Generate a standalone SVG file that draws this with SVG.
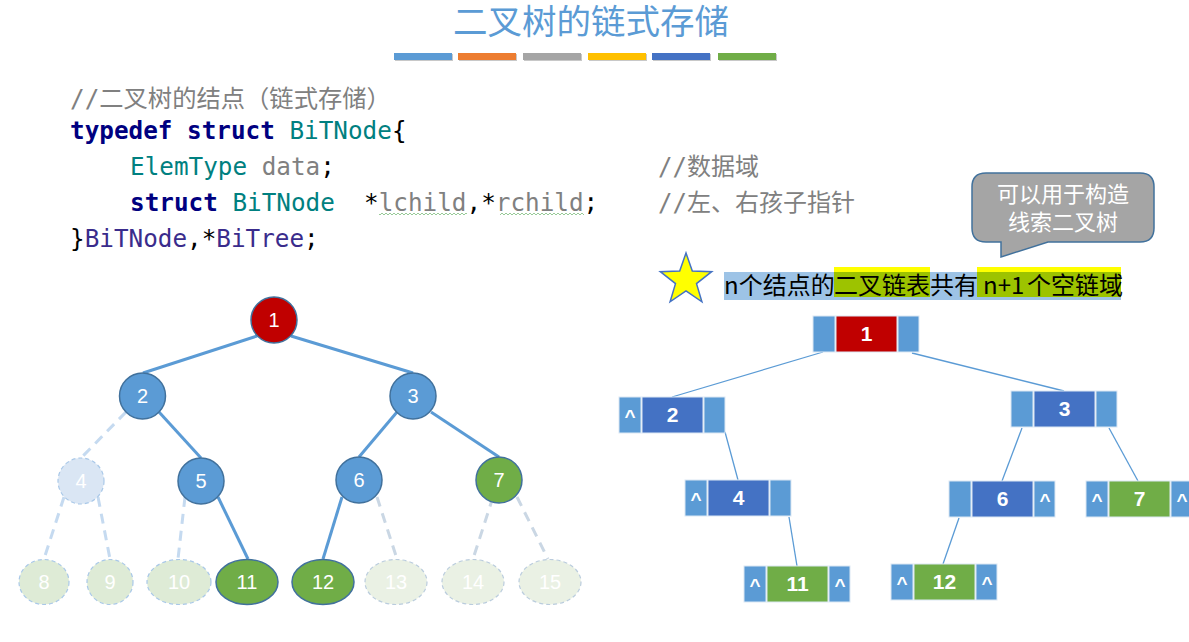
<svg xmlns="http://www.w3.org/2000/svg" width="1189" height="642" viewBox="0 0 1189 642">
<style>
.title{font-family:"Noto Sans CJK SC","Noto Sans",sans-serif;font-size:34.5px;fill:#5B9BD5;text-anchor:middle}
.code{font-family:"DejaVu Sans Mono","Noto Sans CJK SC",monospace;font-size:24.3px;white-space:pre}
.kw{fill:#000080;font-weight:bold}
.ty{fill:#008080}
.gr{fill:#808080}
.bk{fill:#000000}
.pu{fill:#3A2C8C}
.cm{font-family:"DejaVu Sans Mono","Noto Sans CJK SC",monospace;font-size:24px;fill:#808080}
.hl{font-family:"Noto Sans CJK SC",sans-serif;font-size:24px;fill:#000}
.call{font-family:"Noto Sans CJK SC",sans-serif;font-size:22px;fill:#fff;text-anchor:middle}
.e{stroke:#5B9BD5;stroke-width:3;fill:none}
.ed{stroke:#C5DAF0;stroke-width:3;fill:none;stroke-dasharray:10 7}
.ed2{stroke:#CAD7E4;stroke-width:3;fill:none;stroke-dasharray:10 7}
.re{stroke:#5B9BD5;stroke-width:1.3;fill:none}
.c{stroke:#41719C;stroke-width:1.5}
.red{fill:#C00000}
.blu{fill:#5B9BD5}
.grn{fill:#70AD47}
.f4{fill:#DAE6F4;stroke:#A9C8E8;stroke-width:1.2;stroke-dasharray:4 3}
.fg{fill:#DEEBD6;stroke:#A9C8E8;stroke-width:1.2;stroke-dasharray:4 3}
.fg2{fill:#EAF1E4;stroke:#BACCDD;stroke-width:1.2;stroke-dasharray:4 3}
.nt{font-family:"Liberation Sans",Arial,sans-serif;font-size:20px;fill:#fff;text-anchor:middle}
.pc{fill:#5B9BD5;stroke:#DCE8F4;stroke-width:1}
.dc{stroke:#DCE8F4;stroke-width:1}
.db{fill:#4472C4}
.dt{font-family:"Liberation Sans",Arial,sans-serif;font-size:21px;font-weight:bold;fill:#fff;text-anchor:middle}
.ct{font-family:"Liberation Sans",Arial,sans-serif;font-size:19px;font-weight:bold;fill:#fff;text-anchor:middle}
</style>
<defs>
<pattern id="wave" x="0" y="0" width="4" height="4" patternUnits="userSpaceOnUse">
<polyline points="0,3 2,1 4,3" fill="none" stroke="#8CC48C" stroke-width="0.9"/>
</pattern>
</defs>

<g id="title">
<text class="title" x="591" y="34">二叉树的链式存储</text>
<rect x="395" y="54" width="58" height="7" fill="#C8C8C8"/>
<rect x="459" y="54" width="58" height="7" fill="#C8C8C8"/>
<rect x="524" y="54" width="58" height="7" fill="#C8C8C8"/>
<rect x="589" y="54" width="58" height="7" fill="#C8C8C8"/>
<rect x="653" y="54" width="58" height="7" fill="#C8C8C8"/>
<rect x="719" y="54" width="58" height="7" fill="#C8C8C8"/>
<rect x="394" y="53" width="58" height="7" fill="#5B9BD5"/>
<rect x="458" y="53" width="58" height="7" fill="#ED7D31"/>
<rect x="523" y="53" width="58" height="7" fill="#A5A5A5"/>
<rect x="588" y="53" width="58" height="7" fill="#FFC000"/>
<rect x="652" y="53" width="58" height="7" fill="#4472C4"/>
<rect x="718" y="53" width="58" height="7" fill="#70AD47"/>
</g>

<g id="code">
<text class="code gr" x="70" y="107">//二叉树的结点（链式存储）</text>
<text class="code" x="70" y="139"><tspan class="kw">typedef</tspan> <tspan class="kw">struct</tspan> <tspan class="ty">BiTNode</tspan><tspan class="bk">{</tspan></text>
<text class="code" x="130" y="175"><tspan class="ty">ElemType</tspan> <tspan class="gr">data</tspan><tspan class="bk">;</tspan></text>
<text class="code" x="130" y="211"><tspan class="kw">struct</tspan> <tspan class="ty">BiTNode</tspan>  <tspan class="bk">*</tspan><tspan class="gr">lchild</tspan><tspan class="bk">,*</tspan><tspan class="gr">rchild</tspan><tspan class="bk">;</tspan></text>
<text class="code" x="70" y="247"><tspan class="bk">}</tspan><tspan class="pu">BiTNode</tspan><tspan class="bk">,*</tspan><tspan class="pu">BiTree</tspan><tspan class="bk">;</tspan></text>
<rect x="379" y="213" width="88" height="4" fill="url(#wave)"/>
<rect x="500" y="213" width="84" height="4" fill="url(#wave)"/>
<text class="cm" x="658" y="175">//数据域</text>
<text class="cm" x="658" y="211">//左、右孩子指针</text>
</g>

<g id="callout">
<path d="M986,173 H1140 Q1154,173 1154,187 V228 Q1154,242 1140,242 H1048 L1001,257 L1001,242 H986 Q972,242 972,228 V187 Q972,173 986,173 Z" fill="#A5A5A5" stroke="#41719C" stroke-width="1.5"/>
<text class="call"><tspan x="1063" y="202">可以用于构造</tspan><tspan x="1063" y="230">线索二叉树</tspan></text>
</g>

<g id="note">
<polygon points="686,253 692.3,271.1 711.7,271.7 696.5,283.6 701.9,301.8 686,291 670.1,301.8 675.5,283.6 660.3,271.7 679.7,271.1" fill="#FFFF00" stroke="#4472C4" stroke-width="1.5"/>
<rect x="724" y="272" width="397" height="28" fill="#9DC3E6"/>
<rect x="834" y="267" width="96" height="5" fill="#FFFF00"/>
<rect x="834" y="272" width="96" height="25" fill="#9DC300"/>
<rect x="977" y="267" width="144" height="5" fill="#FFFF00"/>
<rect x="977" y="272" width="144" height="25" fill="#9DC300"/>
<text class="hl" x="724" y="294">n个结点的</text>
<text class="hl" x="834" y="294">二叉链表</text>
<text class="hl" x="930" y="294">共有</text>
<text class="hl" x="983" y="294">n+1</text>
<text class="hl" x="1027" y="294">个空链域</text>
</g>

<g id="tree-edges">
<line class="e" x1="257" y1="336" x2="143" y2="373"/>
<line class="e" x1="291" y1="336" x2="413" y2="373"/>
<line class="ed" x1="126" y1="412" x2="81" y2="458"/>
<line class="e" x1="159" y1="412" x2="201" y2="458"/>
<line class="ed" x1="64" y1="497" x2="44" y2="559"/>
<line class="ed" x1="98" y1="497" x2="110" y2="559"/>
<line class="ed" x1="185" y1="497" x2="178" y2="559"/>
<line class="e" x1="218" y1="497" x2="248" y2="559"/>
<line class="e" x1="397" y1="412" x2="359" y2="457"/>
<line class="e" x1="431" y1="412" x2="499" y2="457"/>
<line class="e" x1="342" y1="497" x2="323" y2="559"/>
<line class="ed2" x1="377" y1="497" x2="397" y2="559"/>
<line class="ed2" x1="493" y1="497" x2="473" y2="559"/>
<line class="ed2" x1="517" y1="497" x2="548" y2="559"/>
</g>

<g id="t1"><ellipse class="c red" cx="274" cy="320" rx="23" ry="23"/><text class="nt" x="274" y="327">1</text></g>
<g id="t2"><ellipse class="c blu" cx="142.5" cy="396" rx="23" ry="23"/><text class="nt" x="142.5" y="403">2</text></g>
<g id="t3"><ellipse class="c blu" cx="413" cy="396" rx="23" ry="23"/><text class="nt" x="413" y="403">3</text></g>
<g id="t4"><ellipse class="f4" cx="81" cy="481" rx="23" ry="23"/><text class="nt" x="81" y="488">4</text></g>
<g id="t5"><ellipse class="c blu" cx="201" cy="481" rx="23" ry="23"/><text class="nt" x="201" y="488">5</text></g>
<g id="t6"><ellipse class="c blu" cx="359" cy="480" rx="23" ry="23"/><text class="nt" x="359" y="487">6</text></g>
<g id="t7"><ellipse class="c grn" cx="499" cy="480" rx="23" ry="23"/><text class="nt" x="499" y="487">7</text></g>
<g id="t8"><ellipse class="fg" cx="44" cy="582" rx="25" ry="22.5"/><text class="nt" x="44" y="589">8</text></g>
<g id="t9"><ellipse class="fg" cx="110" cy="582" rx="23" ry="22.5"/><text class="nt" x="110" y="589">9</text></g>
<g id="t10"><ellipse class="fg" cx="179" cy="582" rx="32" ry="22.5"/><text class="nt" x="179" y="589">10</text></g>
<g id="t11"><ellipse class="c grn" cx="247" cy="582" rx="31" ry="22.5"/><text class="nt" x="247" y="589">11</text></g>
<g id="t12"><ellipse class="c grn" cx="323" cy="582" rx="31" ry="22.5"/><text class="nt" x="323" y="589">12</text></g>
<g id="t13"><ellipse class="fg2" cx="396" cy="582" rx="31" ry="22.5"/><text class="nt" x="396" y="589">13</text></g>
<g id="t14"><ellipse class="fg2" cx="473" cy="582" rx="31" ry="22.5"/><text class="nt" x="473" y="589">14</text></g>
<g id="t15"><ellipse class="fg2" cx="550" cy="582" rx="31" ry="22.5"/><text class="nt" x="550" y="589">15</text></g>

<g id="link-edges">
<line class="re" x1="823" y1="352" x2="672" y2="397"/>
<line class="re" x1="912" y1="353" x2="1064" y2="391"/>
<line class="re" x1="725" y1="432" x2="738" y2="480"/>
<line class="re" x1="789" y1="517" x2="797" y2="566"/>
<line class="re" x1="1022" y1="428" x2="1002" y2="481"/>
<line class="re" x1="1109" y1="428" x2="1138" y2="481"/>
<line class="re" x1="959" y1="518" x2="943" y2="564"/>
</g>

<g id="l1"><rect class="pc" x="813" y="316" width="22" height="36"/><rect class="dc red" x="836" y="316" width="61" height="36"/><rect class="pc" x="898" y="316" width="21" height="36"/><text class="dt" x="866.5" y="341">1</text></g>
<g id="l2"><rect class="pc" x="619" y="397" width="22" height="36"/><rect class="dc db" x="642" y="397" width="61" height="36"/><rect class="pc" x="704" y="397" width="21" height="36"/><text class="dt" x="672.5" y="422">2</text><text class="ct" x="630" y="423">^</text></g>
<g id="l3"><rect class="pc" x="1011" y="391" width="22" height="36"/><rect class="dc db" x="1034" y="391" width="61" height="36"/><rect class="pc" x="1096" y="391" width="21" height="36"/><text class="dt" x="1064.5" y="416">3</text></g>
<g id="l4"><rect class="pc" x="685" y="480" width="22" height="36"/><rect class="dc db" x="708" y="480" width="61" height="36"/><rect class="pc" x="770" y="480" width="21" height="36"/><text class="dt" x="738.5" y="505">4</text><text class="ct" x="696" y="506">^</text></g>
<g id="l6"><rect class="pc" x="949" y="481" width="22" height="36"/><rect class="dc db" x="972" y="481" width="61" height="36"/><rect class="pc" x="1034" y="481" width="21" height="36"/><text class="dt" x="1002.5" y="506">6</text><text class="ct" x="1045" y="507">^</text></g>
<g id="l7"><rect class="pc" x="1086" y="481" width="22" height="36"/><rect class="dc grn" x="1109" y="481" width="61" height="36"/><rect class="pc" x="1171" y="481" width="21" height="36"/><text class="dt" x="1139.5" y="506">7</text><text class="ct" x="1097" y="507">^</text><text class="ct" x="1182" y="507">^</text></g>
<g id="l11"><rect class="pc" x="744" y="566" width="22" height="36"/><rect class="dc grn" x="767" y="566" width="61" height="36"/><rect class="pc" x="829" y="566" width="21" height="36"/><text class="dt" x="797.5" y="591">11</text><text class="ct" x="755" y="592">^</text><text class="ct" x="840" y="592">^</text></g>
<g id="l12"><rect class="pc" x="891" y="564" width="22" height="36"/><rect class="dc grn" x="914" y="564" width="61" height="36"/><rect class="pc" x="976" y="564" width="21" height="36"/><text class="dt" x="944.5" y="589">12</text><text class="ct" x="902" y="590">^</text><text class="ct" x="987" y="590">^</text></g>
</svg>
